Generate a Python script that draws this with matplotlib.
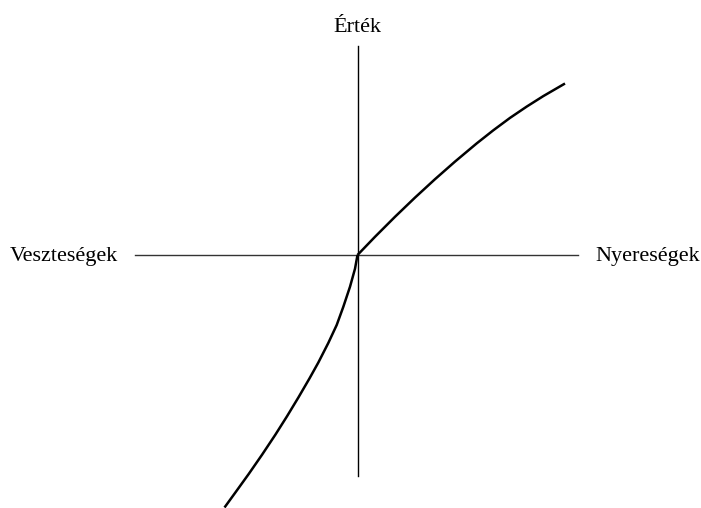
import matplotlib.pyplot as plt

# value function (arbitrary units, origin at the kink)
gain_x = [0.0, 1.75, 3.75, 5.75, 7.75, 9.75, 11.92, 13.58, 15.25, 16.92, 18.58, 20.75]
gain_v = [0.0, 1.82, 3.82, 5.74, 7.58, 9.34, 11.16, 12.47, 13.71, 14.84, 15.89, 17.15]
loss_x = [0.0, -0.25, -0.75, -1.42, -2.08, -2.92, -3.92, -4.8, -5.9, -7.05,
          -8.22, -9.55, -10.88, -12.22, -13.3]
loss_v = [0.0, -1.375, -3.175, -5.185, -7.0, -8.8, -10.76, -12.34, -14.23, -16.13,
          -17.98, -19.98, -21.9, -23.76, -25.25]

x_label_left = "Veszteségek"
x_label_right = "Nyereségek"
y_label = "Érték"

plt.rcParams['font.family'] = ['Liberation Serif', 'DejaVu Serif']

fig = plt.figure(figsize=(7.01, 5.08), dpi=100)
ax = fig.add_axes([0, 0, 1, 1])
ax.set_xlim(-35.75, 34.35)
ax.set_ylim(-25.3, 25.5)
ax.axis('off')

# axes crosses
ax.plot([-22.25, 22.05], [0, 0], color='#333333', lw=1.0)
ax.plot([0, 0], [-22.1, 20.9], color='black', lw=1.0)

ax.plot(gain_x, gain_v, color='black', lw=1.8, solid_capstyle='butt')
ax.plot(loss_x, loss_v, color='black', lw=1.8, solid_capstyle='butt')

ax.text(-23.95, -0.6, x_label_left, ha='right', va='baseline', fontsize=16)
ax.text(23.75, -0.6, x_label_right, ha='left', va='baseline', fontsize=16)
ax.text(0, 22.35, y_label, ha='center', va='baseline', fontsize=16)

fig.savefig('out.png', dpi=100)
